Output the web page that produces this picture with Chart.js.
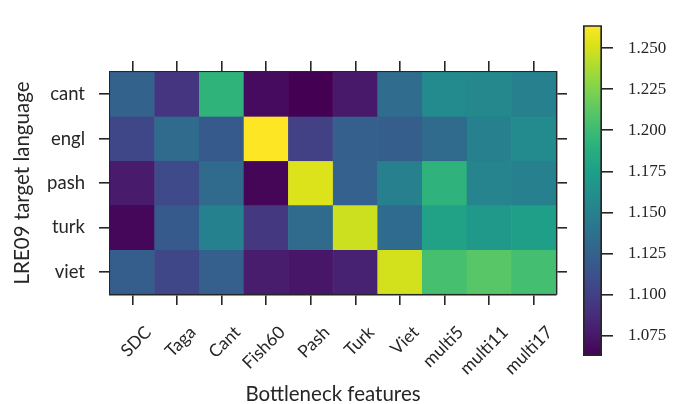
<!DOCTYPE html>
<html>
<head>
<meta charset="utf-8">
<script src="https://cdn.jsdelivr.net/npm/chart.js@4"></script>
<style>
html, body { margin: 0; padding: 0; background: #fff; }
#wrap { position: relative; width: 676px; height: 404px; }
#heat { position: absolute; left: 0; top: 0; }
#cbar { position: absolute; left: 560px; top: 0; }
</style>
</head>
<body>
<div id="wrap">
  <canvas id="heat" width="676" height="404"></canvas>
  <canvas id="cbar" width="116" height="404"></canvas>
</div>
<script>
// bottleneck features (columns) and target languages (rows)
const features = ['SDC', 'Taga', 'Cant', 'Fish60', 'Pash', 'Turk', 'Viet', 'multi5', 'multi11', 'multi17'];
const languages = ['cant', 'engl', 'pash', 'turk', 'viet'];

// cell values, one array per target language
const cant = [1.125, 1.093, 1.193, 1.068, 1.0625, 1.075, 1.133, 1.157, 1.156, 1.149];
const engl = [1.105, 1.131, 1.119, 1.264, 1.101, 1.123, 1.122, 1.131, 1.149, 1.157];
const pash = [1.077, 1.107, 1.131, 1.065, 1.253, 1.124, 1.149, 1.192, 1.152, 1.149];
const turk = [1.066, 1.119, 1.150, 1.095, 1.131, 1.248, 1.132, 1.178, 1.170, 1.175];
const viet = [1.122, 1.105, 1.123, 1.078, 1.074, 1.081, 1.250, 1.204, 1.211, 1.203];

// colour bar
const vmin = 1.0625;
const vmax = 1.264;
const cbarTicks = [1.075, 1.100, 1.125, 1.150, 1.175, 1.200, 1.225, 1.250];

const rows = [cant, engl, pash, turk, viet];
const ink = '#262626';
const sans = 'Lato, "DejaVu Sans", sans-serif';
const serif = '"Liberation Serif", "DejaVu Serif", serif';

// viridis colormap
const viridis = ['#440154', '#48186a', '#472d7b', '#424086', '#3b528b', '#33638d', '#2c728e', '#26828e',
  '#21918c', '#1fa088', '#28ae80', '#3fbc73', '#5ec962', '#84d44b', '#addc30', '#d8e219', '#fde725'];

function hexRgb(h) {
  return [1, 3, 5].map(i => parseInt(h.slice(i, i + 2), 16));
}

function viridisColor(v) {
  let t = (v - vmin) / (vmax - vmin);
  t = Math.max(0, Math.min(1, t)) * (viridis.length - 1);
  const i = Math.min(Math.floor(t), viridis.length - 2);
  const f = t - i;
  const a = hexRgb(viridis[i]), b = hexRgb(viridis[i + 1]);
  const c = a.map((x, k) => Math.round(x + (b[k] - x) * f));
  return 'rgb(' + c.join(',') + ')';
}

const tickGrid = {
  display: true, drawOnChartArea: false, drawTicks: true,
  tickLength: 11, color: ink, lineWidth: 1.6, offset: false
};
const frame = { display: true, color: ink, width: 2.4 };
const rowTicks = s => { s.ticks = languages.map((_, i) => ({ value: i })); };

// each row is a dataset of floating bars spanning one row band
const heatDatasets = rows.map((vals, r) => ({
  label: languages[r],
  data: vals.map(() => [r - 0.5, r + 0.5]),
  backgroundColor: vals.map(viridisColor),
  borderColor: vals.map(viridisColor),
  borderWidth: 0.5,
  borderSkipped: false,
  barPercentage: 1,
  categoryPercentage: 1,
  grouped: false
}));

new Chart(document.getElementById('heat'), {
  type: 'bar',
  data: { labels: features, datasets: heatDatasets },
  options: {
    responsive: false,
    animation: false,
    layout: { padding: 0 },
    plugins: { legend: { display: false }, tooltip: { enabled: false } },
    scales: {
      x: {
        type: 'category', position: 'bottom', offset: true,
        grid: tickGrid, border: frame,
        ticks: {
          color: ink, font: { family: sans, size: 17.5 }, autoSkip: false,
          minRotation: 45, maxRotation: 45, padding: 17, labelOffset: 16
        },
        title: {
          display: true, text: 'Bottleneck features', color: ink,
          font: { family: sans, size: 20.5, lineHeight: 0.9 }, padding: { top: 0, bottom: 0 }
        },
        afterFit: s => { s.height = 110; }
      },
      x2: {
        type: 'category', position: 'top', offset: true,
        grid: tickGrid, border: frame, ticks: { display: false },
        afterFit: s => { s.height = 72; }
      },
      y: {
        type: 'linear', position: 'left', min: -0.5, max: 4.5, reverse: true,
        grid: tickGrid, border: frame, afterBuildTicks: rowTicks,
        ticks: { color: ink, font: { family: sans, size: 18.5 }, padding: 14, callback: v => languages[v] },
        title: {
          display: true, text: 'LRE09 target language', color: ink,
          font: { family: sans, size: 20.5 }, padding: { top: 10, bottom: 0 }
        },
        afterFit: s => { s.width = 110; }
      },
      y2: {
        type: 'linear', position: 'right', min: -0.5, max: 4.5, reverse: true,
        grid: tickGrid, border: frame, afterBuildTicks: rowTicks,
        ticks: { display: false },
        afterFit: s => { s.width = 120; }
      }
    }
  }
});

// colour bar as a single floating bar filled with the colormap
function cbarFill(ctx) {
  const area = ctx.chart.chartArea;
  if (!area) return null;
  const g = ctx.chart.ctx.createLinearGradient(0, area.bottom, 0, area.top);
  viridis.forEach((c, i) => g.addColorStop(i / (viridis.length - 1), c));
  return g;
}

new Chart(document.getElementById('cbar'), {
  type: 'bar',
  data: {
    labels: [''],
    datasets: [{
      data: [[vmin, vmax]],
      backgroundColor: cbarFill,
      borderColor: ink, borderWidth: 2, borderSkipped: false,
      barPercentage: 1, categoryPercentage: 1
    }]
  },
  options: {
    responsive: false,
    animation: false,
    layout: { padding: { left: 23, top: 12, bottom: 48, right: 0 } },
    plugins: { legend: { display: false }, tooltip: { enabled: false } },
    scales: {
      x: { display: false },
      y: {
        position: 'right', min: vmin, max: vmax,
        border: { display: false },
        grid: { drawOnChartArea: false, tickLength: 11, color: ink, lineWidth: 1.6 },
        afterBuildTicks: s => { s.ticks = cbarTicks.map(v => ({ value: v })); },
        ticks: { color: ink, font: { family: serif, size: 17 }, padding: 15, callback: v => v.toFixed(3) },
        afterFit: s => { s.width = 74; }
      }
    }
  }
});
</script>
</body>
</html>
